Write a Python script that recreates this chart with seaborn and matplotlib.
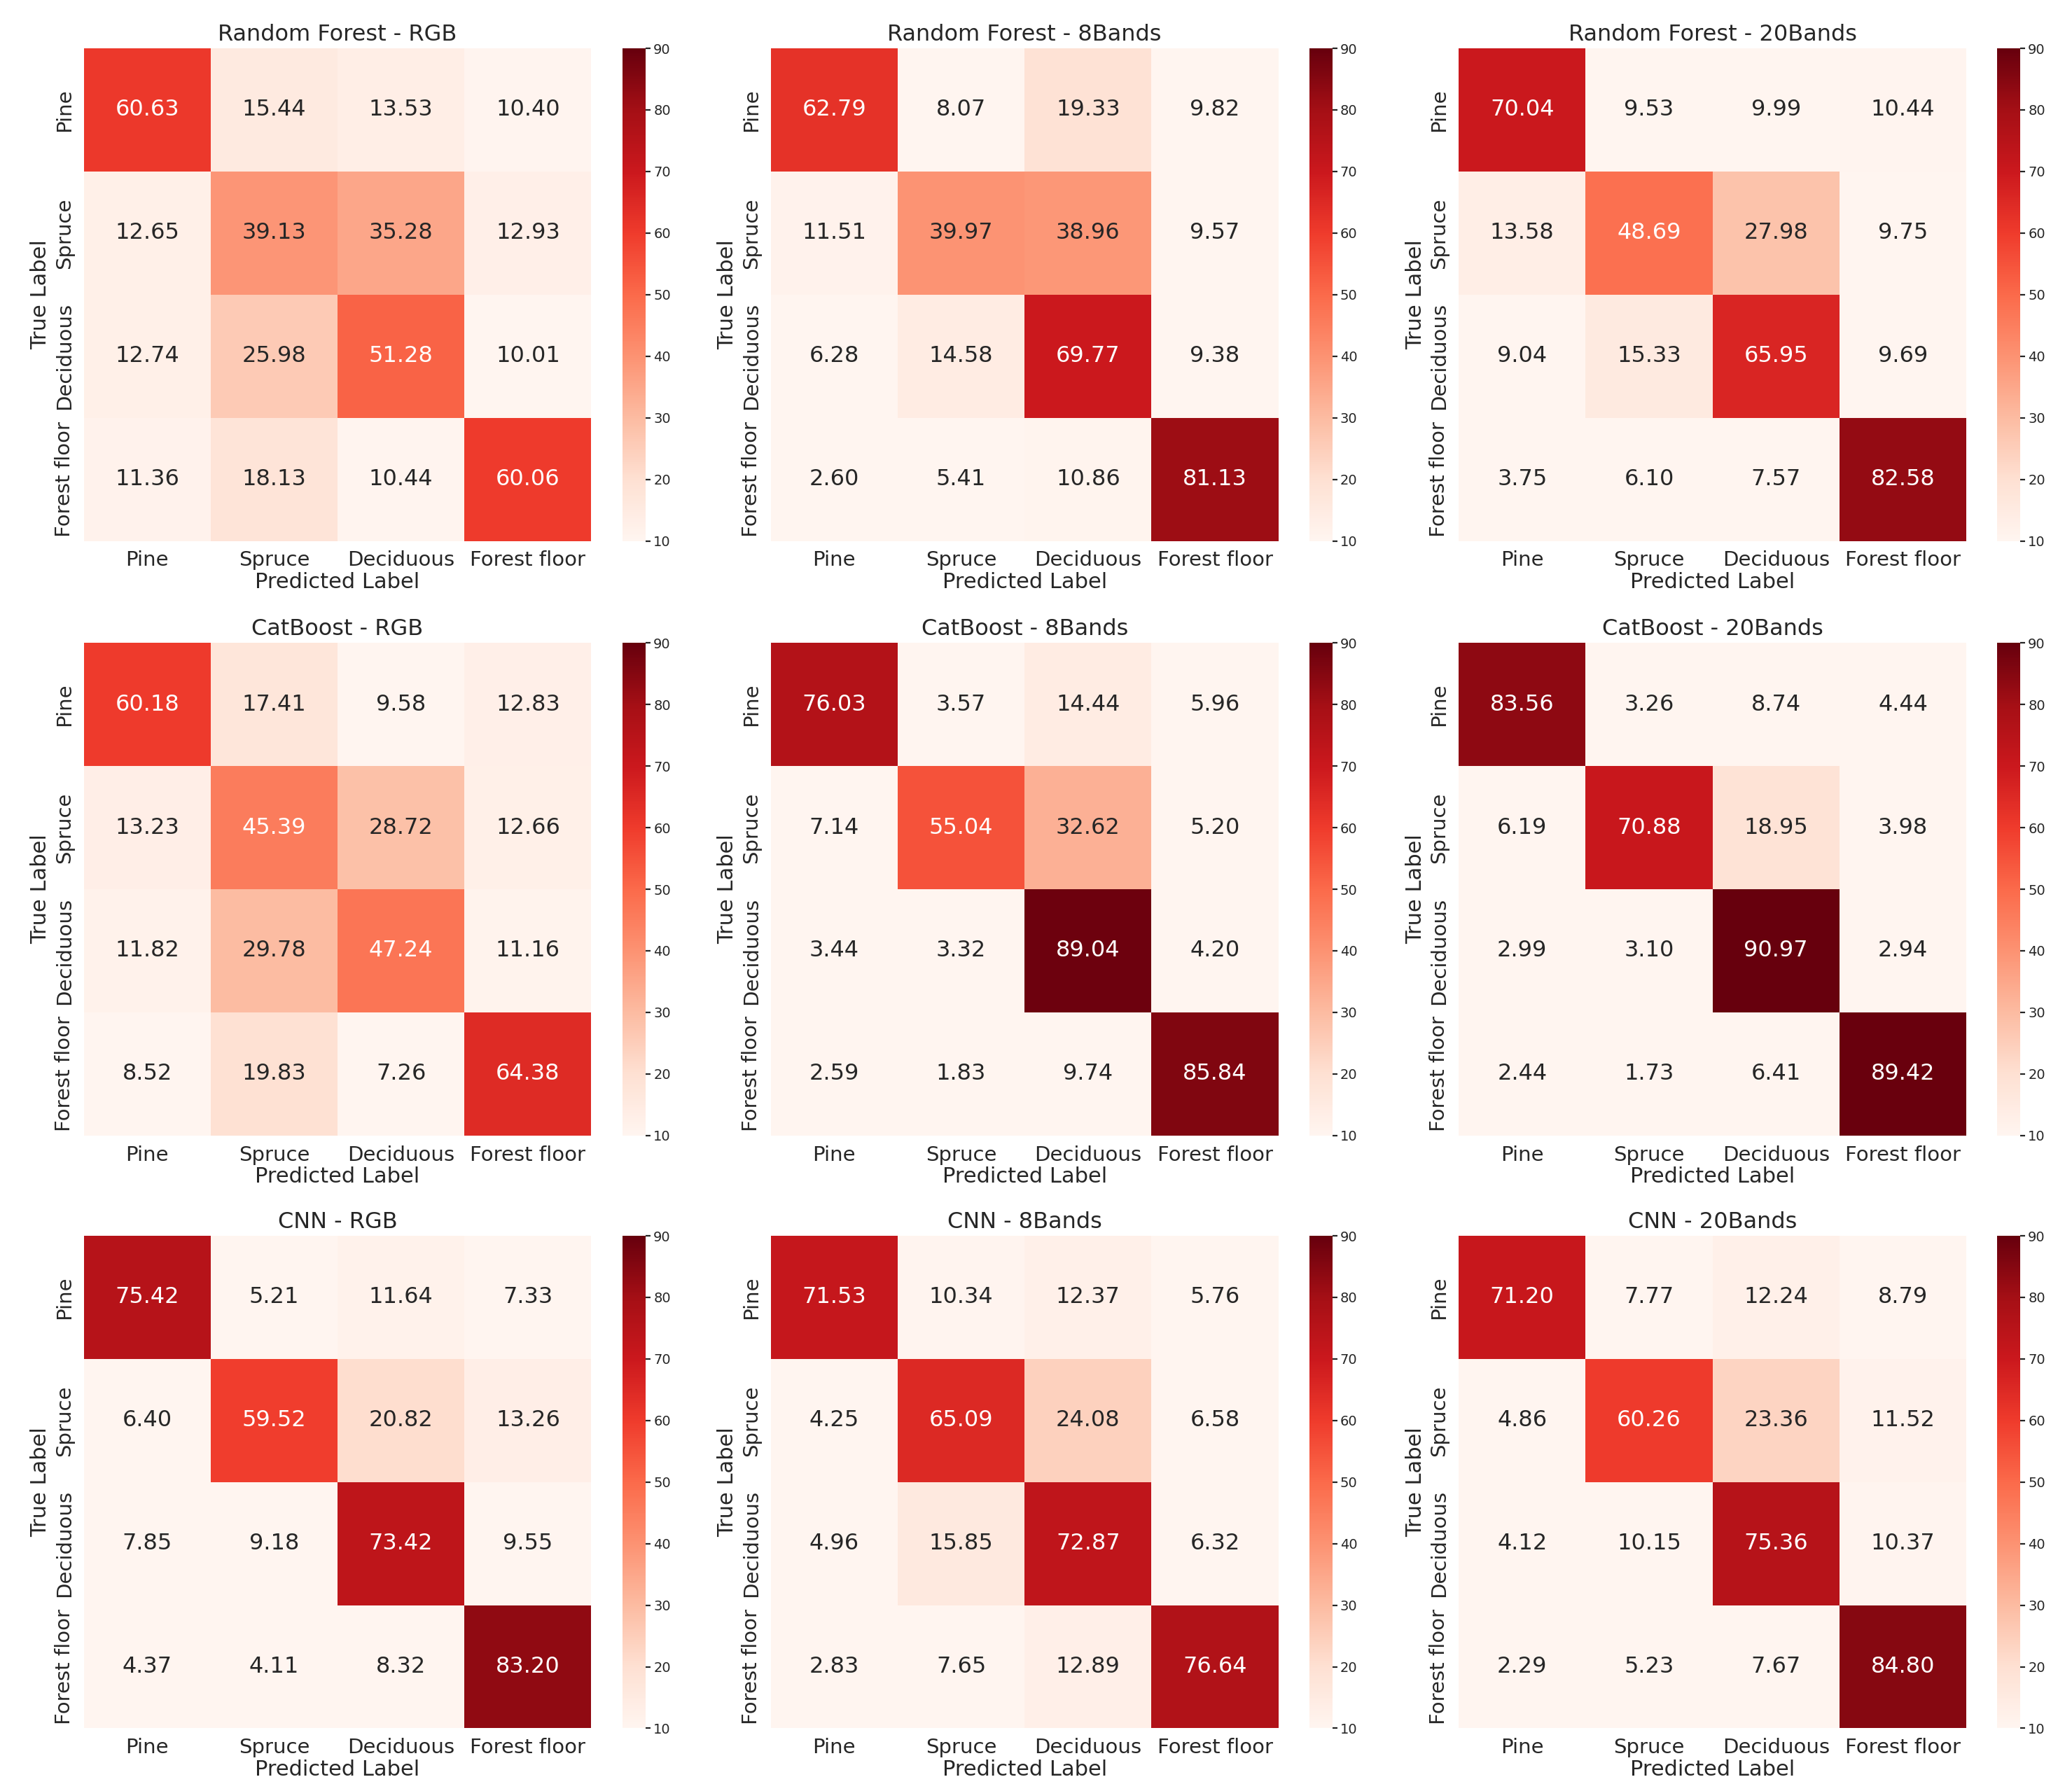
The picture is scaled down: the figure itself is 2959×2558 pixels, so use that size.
import numpy as np
import matplotlib
matplotlib.use("Agg")
import matplotlib.pyplot as plt
import seaborn as sns

sns.set_style("white")
plt.rcParams['font.family'] = ['DejaVu Sans']

classes = ["Pine", "Spruce", "Deciduous", "Forest floor"]
models = ["Random Forest", "CatBoost", "CNN"]
inputs = ["RGB", "8Bands", "20Bands"]

rf_rgb = [[60.63, 15.44, 13.53, 10.40], [12.65, 39.13, 35.28, 12.93],
          [12.74, 25.98, 51.28, 10.01], [11.36, 18.13, 10.44, 60.06]]
rf_8 = [[62.79, 8.07, 19.33, 9.82], [11.51, 39.97, 38.96, 9.57],
        [6.28, 14.58, 69.77, 9.38], [2.60, 5.41, 10.86, 81.13]]
rf_20 = [[70.04, 9.53, 9.99, 10.44], [13.58, 48.69, 27.98, 9.75],
         [9.04, 15.33, 65.95, 9.69], [3.75, 6.10, 7.57, 82.58]]
cb_rgb = [[60.18, 17.41, 9.58, 12.83], [13.23, 45.39, 28.72, 12.66],
          [11.82, 29.78, 47.24, 11.16], [8.52, 19.83, 7.26, 64.38]]
cb_8 = [[76.03, 3.57, 14.44, 5.96], [7.14, 55.04, 32.62, 5.20],
        [3.44, 3.32, 89.04, 4.20], [2.59, 1.83, 9.74, 85.84]]
cb_20 = [[83.56, 3.26, 8.74, 4.44], [6.19, 70.88, 18.95, 3.98],
         [2.99, 3.10, 90.97, 2.94], [2.44, 1.73, 6.41, 89.42]]
cnn_rgb = [[75.42, 5.21, 11.64, 7.33], [6.40, 59.52, 20.82, 13.26],
           [7.85, 9.18, 73.42, 9.55], [4.37, 4.11, 8.32, 83.20]]
cnn_8 = [[71.53, 10.34, 12.37, 5.76], [4.25, 65.09, 24.08, 6.58],
         [4.96, 15.85, 72.87, 6.32], [2.83, 7.65, 12.89, 76.64]]
cnn_20 = [[71.20, 7.77, 12.24, 8.79], [4.86, 60.26, 23.36, 11.52],
          [4.12, 10.15, 75.36, 10.37], [2.29, 5.23, 7.67, 84.80]]

matrices = [[rf_rgb, rf_8, rf_20],
            [cb_rgb, cb_8, cb_20],
            [cnn_rgb, cnn_8, cnn_20]]

fig = plt.figure(figsize=(14.795, 12.79), dpi=200)

# axes placement (figure fractions)
col_left = [0.0404, 0.372, 0.704]
cbar_left = [0.3006, 0.632, 0.964]
row_bottom = [0.698, 0.366, 0.035]
hm_w, hm_h = 0.245, 0.275
cb_w = 0.011

for i, model in enumerate(models):
    for j, inp in enumerate(inputs):
        ax = fig.add_axes([col_left[j], row_bottom[i], hm_w, hm_h])
        cax = fig.add_axes([cbar_left[j], row_bottom[i], cb_w, hm_h])
        sns.heatmap(np.array(matrices[i][j]), annot=True, fmt=".2f", cmap="Reds",
                    vmin=10, vmax=90, ax=ax, cbar_ax=cax,
                    xticklabels=classes, yticklabels=classes,
                    annot_kws={"fontsize": 11.5})
        ax.set_title(f"{model} - {inp}", fontsize=11.5, pad=4)
        ax.set_xlabel("Predicted Label", fontsize=11, labelpad=1)
        ax.set_ylabel("True Label", fontsize=11, labelpad=2)
        ax.tick_params(axis='both', labelsize=10.5, length=3, pad=2)
        plt.setp(ax.get_yticklabels(), rotation=90, va="center")
        plt.setp(ax.get_xticklabels(), rotation=0)
        cax.set_yticks(np.arange(10, 91, 10))
        cax.tick_params(labelsize=7, length=2.5, pad=1.5)

fig.savefig("out.png", dpi=200)
